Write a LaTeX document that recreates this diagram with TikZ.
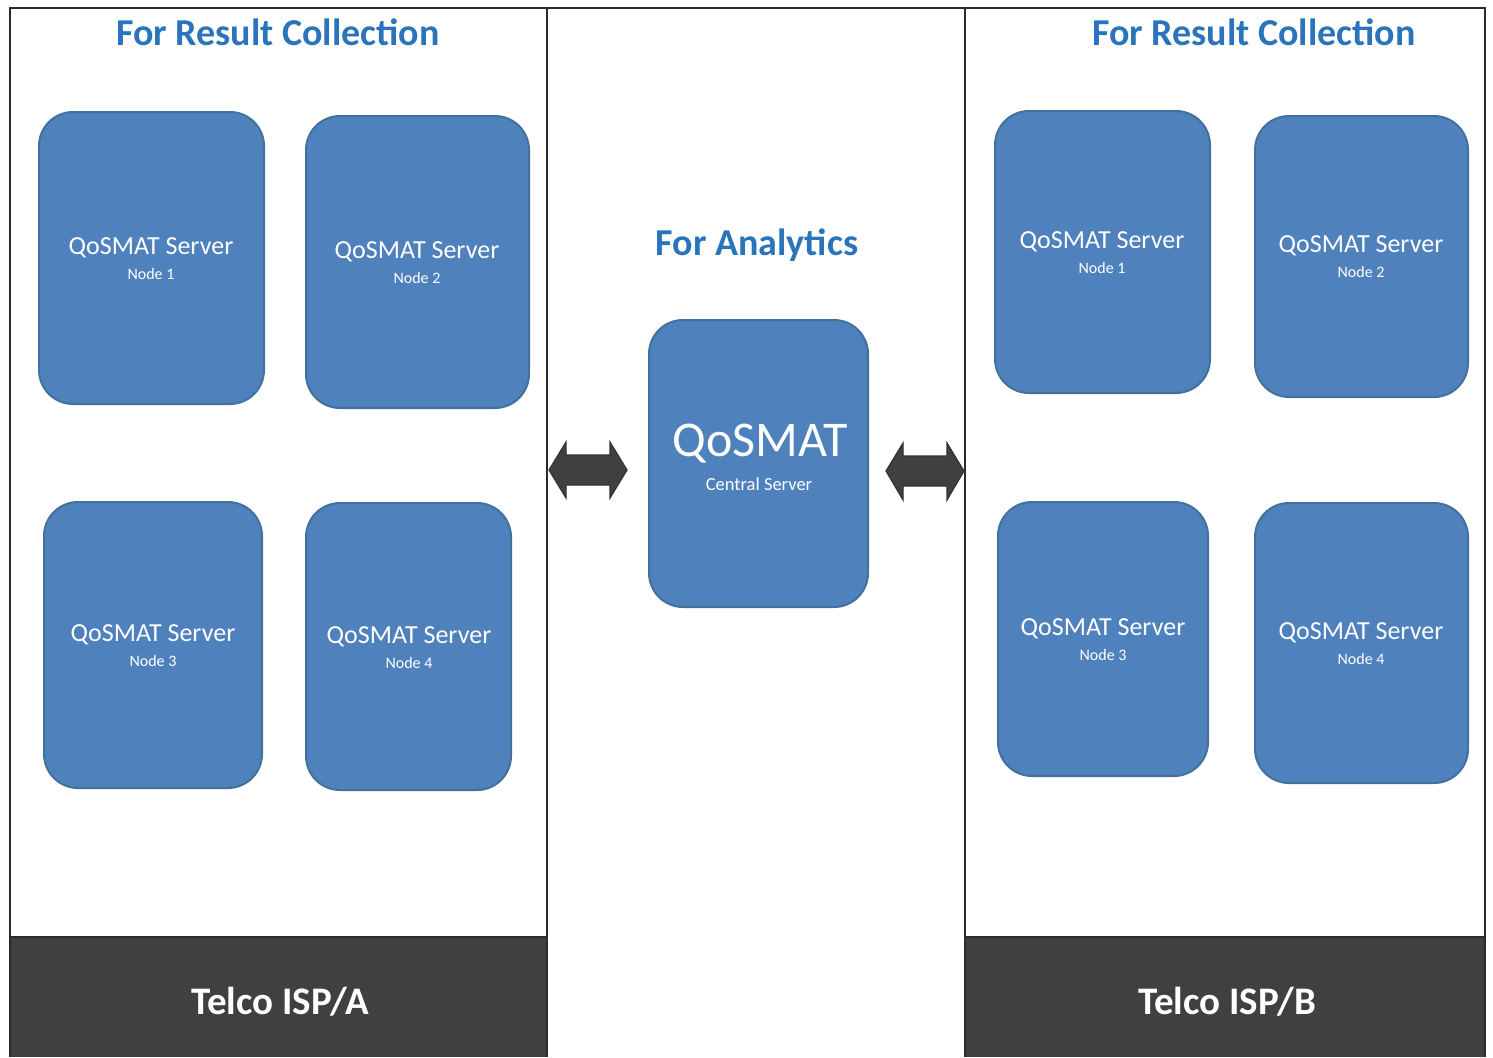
\documentclass[tikz,border=0pt]{standalone}
\usepackage{fontspec}
\setmainfont{Carlito}
\definecolor{boxfill}{HTML}{4F81BD}
\definecolor{boxline}{HTML}{41719C}
\definecolor{titleblue}{HTML}{2A74BC}
\definecolor{band}{HTML}{404040}
\definecolor{frame}{HTML}{2B2B2B}
\begin{document}
\begin{tikzpicture}[x=1pt,y=-1pt,
  srv/.style={draw=boxline, line width=2pt, fill=boxfill, rounded corners=34pt, inner sep=0pt},
  title/.style={text=titleblue, font=\fontsize{38}{42}\selectfont\bfseries},
  bandtext/.style={text=white, font=\fontsize{39}{43}\selectfont\bfseries},
  srvtext/.style={text=white, align=center, font=\fontsize{26}{28}\selectfont},
  nodetext/.style={text=white, align=center, font=\fontsize{16}{18}\selectfont},
  frameline/.style={draw=frame, line width=1.6pt},
  dblarrow/.style={fill=band, draw=black!80, line width=1.2pt, line join=miter}]
\useasboundingbox (0,0) rectangle (1493,1057);
% bands
\fill[band] (10,937) rectangle (547,1057);
\fill[band] (965,937) rectangle (1485,1057);
% frame lines
\draw[frameline] (10,1057) -- (10,8) -- (1485,8) -- (1485,1057);
\draw[frameline] (547,8) -- (547,1057);
\draw[frameline] (965,8) -- (965,1057);
\draw[frameline] (10,937) -- (547,937);
\draw[frameline] (965,937) -- (1485,937);
% titles
\node[title] (tl) at (278,32) {For Result Collection};
\node[title] (tr) at (1254,32) {For Result Collection};
\node[title] (tm) at (757,245) {For Analytics};
\node[bandtext] (ba) at (280,1002) {Telco ISP/A};
\node[bandtext] (bb) at (1227,1002) {Telco ISP/B};
% left servers
\draw[srv] (39,112) rectangle (264,404);
\draw[srv] (306,116) rectangle (529,408);
\draw[srv] (44,502) rectangle (262,788);
\draw[srv] (306,503) rectangle (511,790);
% right servers
\draw[srv] (995,111) rectangle (1210,393);
\draw[srv] (1255,116) rectangle (1468,397);
\draw[srv] (998,502) rectangle (1208,776);
\draw[srv] (1255,503) rectangle (1468,783);
% central
\draw[srv] (649,320) rectangle (868,607);
% server texts
\node[srvtext] (a1) at (151,248) {QoSMAT Server};
\node[nodetext] (a1n) at (151,274) {Node 1};
\node[srvtext] (a2) at (417,252) {QoSMAT Server};
\node[nodetext] (a2n) at (417,278) {Node 2};
\node[srvtext] (a3) at (153,635) {QoSMAT Server};
\node[nodetext] (a3n) at (153,661) {Node 3};
\node[srvtext] (a4) at (409,637) {QoSMAT Server};
\node[nodetext] (a4n) at (409,663) {Node 4};
\node[srvtext] (b1) at (1102,242) {QoSMAT Server};
\node[nodetext] (b1n) at (1102,268) {Node 1};
\node[srvtext] (b2) at (1361,246) {QoSMAT Server};
\node[nodetext] (b2n) at (1361,272) {Node 2};
\node[srvtext] (b3) at (1103,629) {QoSMAT Server};
\node[nodetext] (b3n) at (1103,655) {Node 3};
\node[srvtext] (b4) at (1361,633) {QoSMAT Server};
\node[nodetext] (b4n) at (1361,659) {Node 4};
\node[srvtext, font=\fontsize{50}{52}\selectfont] (c) at (760,444) {QoSMAT};
\node[srvtext, font=\fontsize{18.5}{20}\selectfont] (cn) at (759,484) {Central Server};
% double arrows
\filldraw[dblarrow] (549,470) -- (566,442) -- (566,455) -- (610,455) -- (610,442) -- (627,470)
  -- (610,498) -- (610,485) -- (566,485) -- (566,498) -- cycle;
\filldraw[dblarrow] (886,471) -- (903,443) -- (903,456) -- (947,456) -- (947,443) -- (964,471)
  -- (947,500) -- (947,486) -- (903,486) -- (903,500) -- cycle;
\end{tikzpicture}
\end{document}
